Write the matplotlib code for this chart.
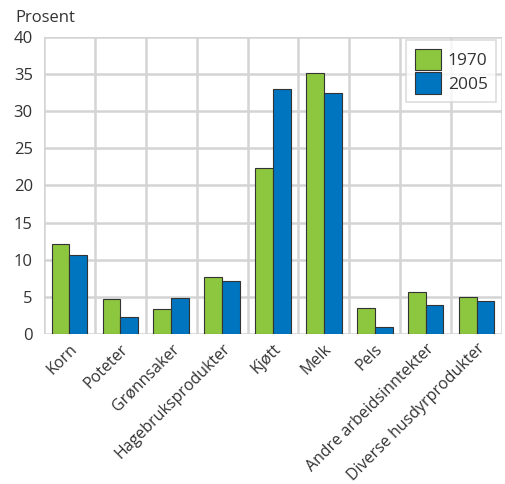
import numpy as np
import matplotlib.pyplot as plt
from matplotlib.ticker import MultipleLocator
import matplotlib.transforms as mtransforms

plt.rcParams['font.family'] = ['Open Sans', 'DejaVu Sans']

# Data
categories = ['Korn', 'Poteter', 'Grønnsaker', 'Hagebruksprodukter', 'Kjøtt',
              'Melk', 'Pels', 'Andre arbeidsinntekter', 'Diverse husdyrprodukter']
values_1970 = [12.1, 4.7, 3.4, 7.7, 22.3, 35.2, 3.5, 5.6, 5.0]
values_2005 = [10.6, 2.3, 4.8, 7.1, 33.0, 32.5, 1.0, 3.9, 4.4]
series_labels = ['1970', '2005']

green = '#8dc63f'
blue = '#0075bf'
grid_col = '#d4d4d4'

fig = plt.figure(figsize=(5.05, 4.84), dpi=100)
ax = fig.add_axes([0.0871, 0.3099, 0.9069, 0.6137])

x = np.arange(len(categories))
w = 0.35
ax.bar(x - w / 2, values_1970, w, color=green, edgecolor='#333333', linewidth=0.8,
       label=series_labels[0], zorder=3)
ax.bar(x + w / 2, values_2005, w, color=blue, edgecolor='#333333', linewidth=0.8,
       label=series_labels[1], zorder=3)

ax.set_xlim(-0.5, len(categories) - 0.5)
ax.set_ylim(0, 40)
ax.yaxis.set_major_locator(MultipleLocator(5))
ax.set_xticks(x)
ax.set_xticks(np.arange(-0.5, len(categories)), minor=True)

# grid
ax.grid(axis='y', which='major', color=grid_col, linewidth=1.8, zorder=0)
ax.grid(axis='x', which='minor', color=grid_col, linewidth=1.8, zorder=0)
ax.grid(axis='x', which='major', visible=False)
for s in ax.spines.values():
    s.set_visible(False)
ax.tick_params(which='both', length=0)
ax.tick_params(axis='y', labelsize=12, pad=8, colors='#333333')

offset = mtransforms.ScaledTranslation(0.13, 0.0, fig.dpi_scale_trans)
ax.set_xticklabels(categories, rotation=45, ha='right', rotation_mode='anchor',
                   fontsize=11.5, color='#333333')
for lab in ax.get_xticklabels():
    lab.set_transform(lab.get_transform() + offset)
ax.tick_params(axis='x', pad=5)

fig.text(15 / 505, 1 - 18 / 484, 'Prosent', fontsize=12, color='#333333',
         va='center', ha='left')

leg = ax.legend(loc='upper right', bbox_to_anchor=(0.988, 0.99), fontsize=12.5,
                frameon=True, fancybox=False, edgecolor=grid_col,
                handlelength=1.5, handleheight=1.5, handletextpad=0.4,
                borderpad=0.5, labelspacing=0.15, borderaxespad=0)
leg.get_frame().set_linewidth(1.2)
for t in leg.get_texts():
    t.set_color('#333333')

fig.savefig('out.png', dpi=100)
